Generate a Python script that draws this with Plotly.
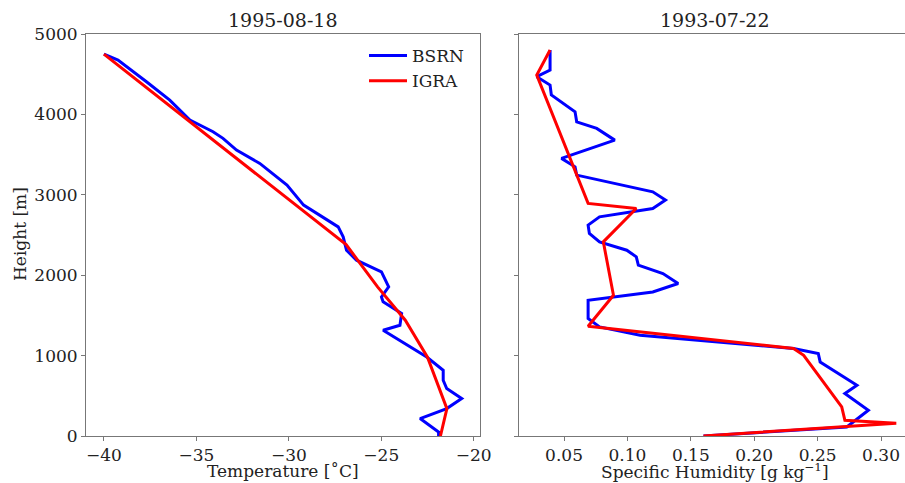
import plotly.graph_objects as go

# ---- data ----
temp_bsrn_height = [4750, 4676, 4406, 4178, 3930, 3784, 3702, 3556, 3390, 3120, 2872, 2664, 2601,
                    2477, 2311, 2187, 2041, 1855, 1730, 1668, 1523, 1378, 1316, 983, 818, 693, 590,
                    466, 341, 217, 50, 0]
temp_bsrn = [-40.0, -39.24, -37.7, -36.44, -35.35, -34.1, -33.56, -32.83, -31.57, -30.1, -29.2, -27.8,
             -27.33, -27.06, -26.88, -26.34, -24.99, -24.6, -24.99, -24.9, -23.9, -23.99, -24.9, -22.54,
             -21.65, -21.65, -21.46, -20.65, -21.46, -22.9, -21.9, -21.9]

temp_igra_height = [4750, 2380, 1855, 1440, 980, 340, 0]
temp_igra = [-40.0, -26.9, -25.2, -23.7, -22.5, -21.45, -21.8]

hum_bsrn_height = [4800, 4551, 4469, 4365, 4241, 4033, 3908, 3826, 3680, 3453, 3348, 3245, 3037, 2934,
                   2830, 2726, 2623, 2519, 2415, 2311, 2228, 2125, 2021, 1897, 1792, 1689, 1461, 1357,
                   1253, 1088, 1026, 921, 631, 528, 320, 174, 112, 0]
hum_bsrn = [0.039, 0.039, 0.0285, 0.039, 0.040, 0.0587, 0.060, 0.0758, 0.090, 0.048, 0.0587, 0.060,
            0.120, 0.130, 0.120, 0.078, 0.069, 0.070, 0.078, 0.0995, 0.107, 0.1086, 0.128, 0.140, 0.120,
            0.069, 0.069, 0.078, 0.110, 0.231, 0.2505, 0.252, 0.281, 0.2715, 0.29, 0.278, 0.273, 0.16]

hum_igra_height = [4800, 4490, 2893, 2830, 2415, 1751, 1365, 1088, 1004, 361, 195, 160, 0]
hum_igra = [0.039, 0.0285, 0.069, 0.107, 0.081, 0.089, 0.069, 0.231, 0.239, 0.269, 0.2715, 0.312, 0.16]

titles = ["1995-08-18", "1993-07-22"]
series_names = ["BSRN", "IGRA"]
temp_ticks = [-40, -35, -30, -25, -20]
hum_ticks = [0.05, 0.10, 0.15, 0.20, 0.25, 0.30]
height_ticks = [0, 1000, 2000, 3000, 4000, 5000]

BLUE = "#0000ff"
RED = "#ff0000"
FONT = "DejaVu Serif"
AX = "#777777"
TXT = "#222222"

fig = go.Figure()
fig.add_trace(go.Scatter(x=temp_bsrn, y=temp_bsrn_height, mode="lines", name=series_names[0],
                         line=dict(color=BLUE, width=3), xaxis="x", yaxis="y"))
fig.add_trace(go.Scatter(x=temp_igra, y=temp_igra_height, mode="lines", name=series_names[1],
                         line=dict(color=RED, width=3), xaxis="x", yaxis="y"))
fig.add_trace(go.Scatter(x=hum_bsrn, y=hum_bsrn_height, mode="lines", name=series_names[0],
                         line=dict(color=BLUE, width=3), xaxis="x2", yaxis="y2", showlegend=False))
fig.add_trace(go.Scatter(x=hum_igra, y=hum_igra_height, mode="lines", name=series_names[1],
                         line=dict(color=RED, width=3), xaxis="x2", yaxis="y2", showlegend=False))

W, H = 905, 483
L, R, T, B = 86, 0, 34, 47
pw = W - L - R
ph = H - T - B
d1 = [0, (480 - L) / pw]
d2 = [(519 - L) / pw, 1.0]

common = dict(showgrid=False, zeroline=False, ticks="outside", ticklen=4, tickcolor=AX,
              linecolor=AX, linewidth=1, showline=True, automargin=False,
              tickfont=dict(family=FONT, size=17, color=TXT))

fig.update_layout(
    template="none",
    width=W, height=H,
    margin=dict(l=L, r=R, t=T, b=B, pad=0),
    paper_bgcolor="white", plot_bgcolor="white",
    font=dict(family=FONT, size=17, color=TXT),
    xaxis=dict(domain=d1, range=[-40.97, -19.66], tickvals=temp_ticks, mirror=True,
               anchor="y", **common),
    yaxis=dict(domain=[0, 1], range=[0, 5000], tickvals=height_ticks, mirror=True,
               anchor="x", **common),
    xaxis2=dict(domain=d2, range=[0.0145, 0.3189], tickvals=hum_ticks, tickformat=".2f",
                mirror=True, anchor="y2", **common),
    yaxis2=dict(domain=[0, 1], range=[0, 5000], tickvals=height_ticks, showticklabels=False,
                mirror=False, anchor="x2", **common),
    legend=dict(x=(364 - L) / pw, y=(H - B - 38) / ph, xanchor="left", yanchor="top",
                bgcolor="rgba(0,0,0,0)", borderwidth=0, itemwidth=38,
                font=dict(family=FONT, size=17, color=TXT), tracegroupgap=0),
    showlegend=True,
)

annotations = [
    dict(text=titles[0], x=(d1[0] + d1[1]) / 2, y=1, xref="paper", yref="paper",
         xanchor="center", yanchor="bottom", yshift=1, showarrow=False,
         font=dict(family=FONT, size=19, color=TXT)),
    dict(text=titles[1], x=(715 - L) / pw, y=1, xref="paper", yref="paper",
         xanchor="center", yanchor="bottom", yshift=1, showarrow=False,
         font=dict(family=FONT, size=19, color=TXT)),
    dict(text="Temperature [˚C]", x=(d1[0] + d1[1]) / 2, y=0, xref="paper", yref="paper",
         xanchor="center", yanchor="middle", yshift=-35, showarrow=False,
         font=dict(family=FONT, size=17, color=TXT)),
    dict(text="Specific Humidity [g kg<sup>−1</sup>]", x=(715 - L) / pw, y=0, xref="paper", yref="paper",
         xanchor="center", yanchor="middle", yshift=-35, showarrow=False,
         font=dict(family=FONT, size=17, color=TXT)),
    dict(text="Height [m]", x=0, y=(H - B - 234) / ph, xref="paper", yref="paper",
         xanchor="center", yanchor="middle", xshift=-66, textangle=-90, showarrow=False,
         font=dict(family=FONT, size=17, color=TXT)),
]
fig.update_layout(annotations=annotations)

fig.write_html("out.html", config={"displayModeBar": False},
               post_script="document.body.style.margin='0';document.body.style.overflow='hidden';")
